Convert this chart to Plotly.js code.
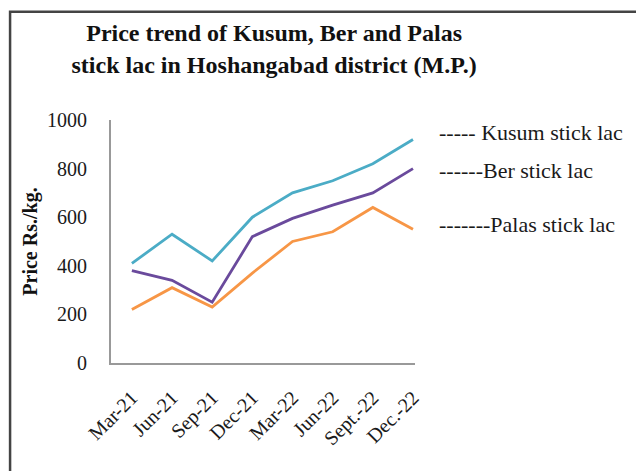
<!DOCTYPE html>
<html><head><meta charset="utf-8">
<script src="https://cdn.plot.ly/plotly-3.0.1.min.js"></script>
<style>html,body{margin:0;padding:0;background:#fff}#chart{width:636px;height:471px}</style>
</head><body><div id="chart"></div>
<script>
var categories = ["Mar-21","Jun-21","Sep-21","Dec-21","Mar-22","Jun-22","Sept.-22","Dec.-22"];
var kusum = [410, 530, 420, 600, 700, 750, 820, 920];
var ber   = [380, 340, 250, 520, 595, 650, 700, 800];
var palas = [220, 310, 230, 370, 500, 540, 640, 550];
var seriesNames = ["----- Kusum stick lac", "------Ber stick lac", "-------Palas stick lac"];
var yTicks = [0, 200, 400, 600, 800, 1000];

var serif = "Liberation Serif, Times New Roman, serif";
function tr(y, c){ return {x: categories, y: y, type: 'scatter', mode: 'lines', line: {color: c, width: 2.8}, hoverinfo: 'skip', showlegend: false}; }
var data = [tr(kusum, '#4bacc6'), tr(ber, '#6a4a9c'), tr(palas, '#f79646')];

var legFont = {family: serif, size: 22, color: '#1a1a1a'};
var layout = {
  width: 636, height: 471,
  margin: {l: 111, r: 221, t: 120, b: 108},
  paper_bgcolor: '#fff', plot_bgcolor: '#fff',
  showlegend: false,
  title: {text: '<b>Price trend of Kusum, Ber and Palas<br>stick lac in Hoshangabad district (M.P.)</b>',
    font: {family: serif, size: 24, color: '#111'},
    xref: 'container', x: 0.431, xanchor: 'center', yref: 'container', y: 0.912, yanchor: 'top'},
  xaxis: {type: 'category', range: [-0.52, 7.05], showgrid: false, zeroline: false,
    showline: true, linecolor: '#999', linewidth: 2, ticks: '', tickangle: -45,
    ticklabelstandoff: 13,
    tickfont: {family: serif, size: 20, color: '#1a1a1a'}},
  yaxis: {range: [0, 1000], tickvals: yTicks, showgrid: false, zeroline: false,
    showline: true, linecolor: '#999', linewidth: 2, ticks: '', ticklabelstandoff: 18,
    tickfont: {family: serif, size: 20, color: '#1a1a1a'},
    title: {text: '<b>Price Rs./kg.</b>', font: {family: serif, size: 20, color: '#111'}, standoff: 4}},
  annotations: [
    {text: seriesNames[0], xref: 'paper', yref: 'paper', x: 1.072, y: 0.947, xanchor: 'left', yanchor: 'middle', showarrow: false, font: legFont},
    {text: seriesNames[1], xref: 'paper', yref: 'paper', x: 1.072, y: 0.794, xanchor: 'left', yanchor: 'middle', showarrow: false, font: legFont},
    {text: seriesNames[2], xref: 'paper', yref: 'paper', x: 1.072, y: 0.568, xanchor: 'left', yanchor: 'middle', showarrow: false, font: legFont}
  ],
  shapes: [
    {type: 'rect', xref: 'paper', yref: 'paper', x0: -0.332, x1: 2.0, y0: -1.0, y1: 1.445, line: {color: '#444', width: 2.5}}
  ]
};
Plotly.newPlot('chart', data, layout, {displayModeBar: false, staticPlot: true});
</script></body></html>
